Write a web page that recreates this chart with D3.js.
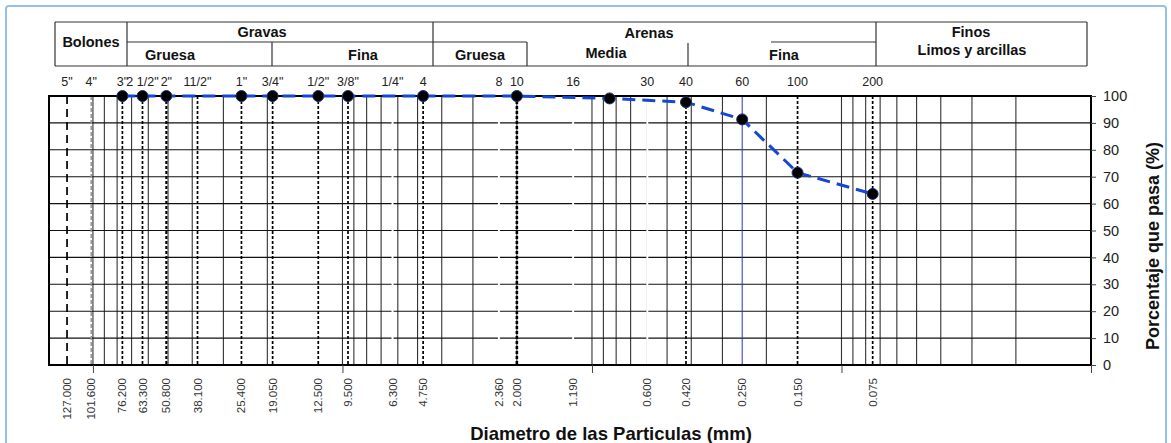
<!DOCTYPE html>
<html>
<head>
<meta charset="utf-8">
<script src="https://cdn.jsdelivr.net/npm/d3@7"></script>
<style>
  body { margin: 0; background: #fff; }
  svg { display: block; font-family: "Liberation Sans", Arial, sans-serif; }
</style>
</head>
<body>
<script>
// ---- data ----
const sieveNames = ['5"', '4"', '3"', '2 1/2"', '2"', '11/2"', '1"', '3/4"', '1/2"', '3/8"', '1/4"', '4', '8', '10', '16', '30', '40', '60', '100', '200'];
const sieveSizes = [127, 101.6, 76.2, 63.3, 50.8, 38.1, 25.4, 19.05, 12.5, 9.5, 6.3, 4.75, 2.36, 2.0, 1.19, 0.6, 0.42, 0.25, 0.15, 0.075];
const dashedSieves = [127, 76.2, 63.3, 50.8, 38.1, 25.4, 19.05, 12.5, 9.5, 4.75, 2.0, 0.42, 0.15, 0.075];
const grayDashedSieves = [101.6];
const hiddenSieves = [6.3, 2.36, 1.19, 0.6];
const blueSieves = [0.25];
const sampleSizes = [76.2, 63.3, 50.8, 25.4, 19.05, 12.5, 9.5, 4.75, 2.0, 0.85, 0.42, 0.25, 0.15, 0.075];
const samplePassing = [100, 100, 100, 100, 100, 100, 100, 100, 100, 99.1, 97.7, 91.3, 71.5, 63.6];
const yTicks = [0, 10, 20, 30, 40, 50, 60, 70, 80, 90, 100];
const majorTicks = [100, 10, 1, 0.1, 0.01];
const xTitle = 'Diametro de las Particulas (mm)';
const yTitle = 'Porcentaje que pasa (%)';

// ---- layout ----
const W = 1171, H = 443;
const L = 49, R = 1091, T = 96, B = 365;
const svg = d3.select('body').append('svg').attr('width', W).attr('height', H);

// outer light-blue frame
svg.append('rect').attr('x', 6).attr('y', 6).attr('width', 1160).attr('height', 460)
  .attr('rx', 3).attr('fill', 'none').attr('stroke', '#94c1e8').attr('stroke-width', 2);

const x = d3.scaleLog().domain([150, 0.01]).range([L, R]);
const y = d3.scaleLinear().domain([0, 100]).range([B, T]);

// minor log grid
const gridVals = [];
for (let e = -2; e <= 2; e++) for (let k = 1; k <= 9; k++) {
  const v = k * Math.pow(10, e);
  if (v <= 150 && v >= 0.01) gridVals.push(v);
}
svg.append('g').selectAll('line').data(gridVals).join('line')
  .attr('x1', d => x(d)).attr('x2', d => x(d)).attr('y1', T).attr('y2', B)
  .attr('stroke', '#333').attr('stroke-width', 1.1);

svg.append('g').selectAll('line').data(yTicks).join('line')
  .attr('x1', L).attr('x2', R).attr('y1', d => y(d)).attr('y2', d => y(d))
  .attr('stroke', '#111').attr('stroke-width', 1.1);

// hidden (white) sieve lines
svg.append('g').selectAll('line').data(hiddenSieves).join('line')
  .attr('x1', d => x(d)).attr('x2', d => x(d)).attr('y1', T + 1).attr('y2', B - 1)
  .attr('stroke', '#fff').attr('stroke-width', 2);

// blue solid line
svg.append('g').selectAll('line').data(blueSieves).join('line')
  .attr('x1', d => x(d)).attr('x2', d => x(d)).attr('y1', T).attr('y2', B)
  .attr('stroke', '#2633c4').attr('stroke-width', 1);

// gray dashed
svg.append('g').selectAll('line').data(grayDashedSieves).join('line')
  .attr('x1', d => x(d)).attr('x2', d => x(d)).attr('y1', T).attr('y2', B)
  .attr('stroke', '#9a9a9a').attr('stroke-width', 1.6).attr('stroke-dasharray', '4,2');

// dashed sieve lines
svg.append('g').selectAll('line').data(dashedSieves).join('line')
  .attr('x1', d => x(d)).attr('x2', d => x(d)).attr('y1', T).attr('y2', B)
  .attr('stroke', '#000')
  .attr('stroke-width', d => d === 2.0 ? 2.6 : (d === 50.8 ? 2.1 : 1.7))
  .attr('stroke-dasharray', d => d === 127 ? '8,5' : '3,2');

// plot border
svg.append('rect').attr('x', L).attr('y', T).attr('width', R - L).attr('height', B - T)
  .attr('fill', 'none').attr('stroke', '#000').attr('stroke-width', 2);

// bottom decade ticks
const xAxis = svg.append('g').attr('transform', `translate(0,${B})`)
  .call(d3.axisBottom(x).tickValues(majorTicks).tickSize(8).tickFormat(''));
xAxis.select('.domain').remove();
xAxis.selectAll('line').attr('stroke', '#444');

// right y axis
const yAxis = svg.append('g').attr('transform', `translate(${R},0)`)
  .call(d3.axisRight(y).tickValues(yTicks).tickSize(5).tickPadding(7));
yAxis.select('.domain').remove();
yAxis.selectAll('line').attr('stroke', '#444');
yAxis.selectAll('text').attr('font-size', 14.5).attr('fill', '#222')
  .attr('font-family', '"Liberation Sans", Arial, sans-serif');

// bottom size labels
const fmt = d3.format('.3f');
svg.append('g').selectAll('text').data(sieveSizes).join('text')
  .attr('transform', d => `translate(${x(d)},378) rotate(-90)`)
  .attr('text-anchor', 'end').attr('dy', '0.35em')
  .attr('font-size', 11.5).attr('fill', '#333')
  .text(d => fmt(d));

// top sieve names
svg.append('g').selectAll('text').data(sieveNames).join('text')
  .attr('x', (d, i) => x(sieveSizes[i])).attr('y', 86)
  .attr('text-anchor', 'middle').attr('font-size', 12.5).attr('fill', '#222')
  .text(d => d);

// curve
const pts = sampleSizes.map((s, i) => [s, samplePassing[i]]);
svg.append('path').datum(pts)
  .attr('d', d3.line().x(d => x(d[0])).y(d => y(d[1])))
  .attr('fill', 'none').attr('stroke', '#1447d4').attr('stroke-width', 3)
  .attr('stroke-dasharray', '13,7');

svg.append('g').selectAll('circle').data(pts).join('circle')
  .attr('cx', d => x(d[0])).attr('cy', d => y(d[1])).attr('r', 5.5)
  .attr('fill', '#000').attr('stroke', '#1c2f6e').attr('stroke-width', 1);

// axis titles
svg.append('text').attr('x', 611).attr('y', 440).attr('text-anchor', 'middle')
  .attr('font-size', 18.5).attr('font-weight', 'bold').attr('fill', '#111').text(xTitle);
svg.append('text').attr('transform', 'translate(1153,246) rotate(-90)')
  .attr('text-anchor', 'middle').attr('dy', '0.35em')
  .attr('font-size', 18).attr('font-weight', 'bold').attr('fill', '#111').text(yTitle);

// ---- header classification table ----
const hdr = svg.append('g').attr('stroke', '#333').attr('stroke-width', 1.2).attr('fill', 'none');
const hLines = [
  [55, 22, 1087, 22], [55, 66, 1087, 66],
  [55, 22, 55, 66], [127, 22, 127, 66], [433, 22, 433, 66], [876, 22, 876, 66], [1087, 22, 1087, 66],
  [127, 42, 433, 42], [433, 42, 527, 42], [771, 42, 876, 42],
  [272, 42, 272, 66], [527, 42, 527, 66], [688, 43, 688, 66]
];
hdr.selectAll('line').data(hLines).join('line')
  .attr('x1', d => d[0]).attr('y1', d => d[1]).attr('x2', d => d[2]).attr('y2', d => d[3]);

const hdrTexts = [
  ['Bolones', 91, 47], ['Gravas', 262, 37], ['Gruesa', 170, 60], ['Fina', 363, 60],
  ['Arenas', 649, 38], ['Gruesa', 480, 60], ['Media', 606, 58], ['Fina', 784, 60],
  ['Finos', 971, 37], ['Limos y arcillas', 972, 55]
];
svg.append('g').selectAll('text').data(hdrTexts).join('text')
  .attr('x', d => d[1]).attr('y', d => d[2]).attr('text-anchor', 'middle')
  .attr('font-size', 14.5).attr('font-weight', 'bold').attr('fill', '#111')
  .text(d => d[0]);
</script>
</body>
</html>
